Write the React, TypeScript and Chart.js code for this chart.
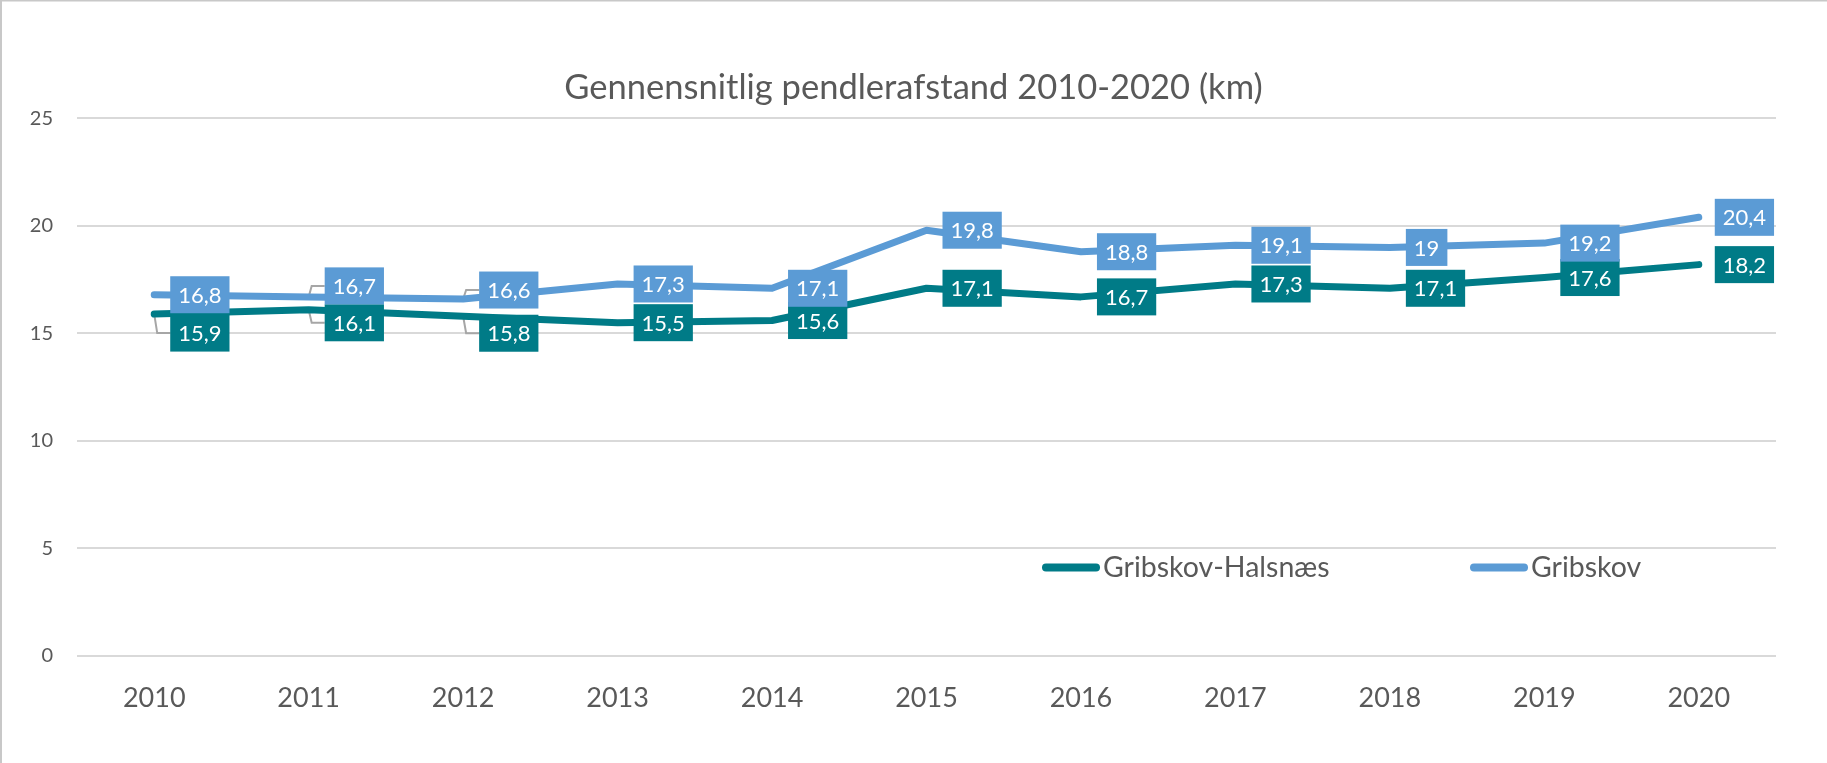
import React, { useEffect, useRef } from "react";
import { Chart, registerables } from "chart.js";

Chart.register(...registerables);

// ---- data ----
const years = ["2010", "2011", "2012", "2013", "2014", "2015", "2016", "2017", "2018", "2019", "2020"];
const seriesNames = ["Gribskov-Halsnæs", "Gribskov"];
const halsnaesValues = [15.9, 16.1, 15.8, 15.5, 15.6, 17.1, 16.7, 17.3, 17.1, 17.6, 18.2];
const gribskovValues = [16.8, 16.7, 16.6, 17.3, 17.1, 19.8, 18.8, 19.1, 19.0, 19.2, 20.4];
const yTickValues = [0, 5, 10, 15, 20, 25];
const chartTitle = "Gennensnitlig pendlerafstand 2010-2020 (km)";

// manual label displacement (px) as in the original, leader lines drawn when non-zero
const halsnaesLabelShift = [19, 13, 17, 0, 0, 0, 0, 0, 0, 0, 0];
const gribskovLabelShift = [0, -11, -9, 0, 0, 0, 0, 0, 0, 0, 0];

// ---- style ----
const TEAL = "#007B87";
const BLUE = "#5B9BD5";
const TEXT = "#595959";
const GRID = "#D9D9D9";
const FONT = "Lato, 'Open Sans', sans-serif";
const LABEL_FONT = `22px ${FONT}`;

const fmt = (v: number) => String(v).replace(".", ",");

const backgroundPlugin = {
  id: "bgBorder",
  beforeDraw(chart: any) {
    const { ctx, width, height } = chart;
    ctx.save();
    ctx.fillStyle = "#FFFFFF";
    ctx.fillRect(0, 0, width, height);
    ctx.fillStyle = "#C8C8C8";
    ctx.fillRect(0, 0, width, 1.5);
    ctx.fillRect(0, 0, 2, height);
    ctx.restore();
  },
};

const shifts = [halsnaesLabelShift, gribskovLabelShift];

function labelGeometry(chart: any, ctx: CanvasRenderingContext2D, di: number, j: number) {
  const meta = chart.getDatasetMeta(di);
  const el = meta.data[j];
  const value = chart.data.datasets[di].data[j] as number;
  const text = fmt(value);
  ctx.font = LABEL_FONT;
  const w = ctx.measureText(text).width + 16;
  const h = 37;
  const left = el.x + 16;
  const cy = el.y + shifts[di][j];
  return { px: el.x, py: el.y, text, w, h, left, cy };
}

const labelPlugin = {
  id: "boxLabels",
  beforeDatasetsDraw(chart: any) {
    const ctx = chart.ctx as CanvasRenderingContext2D;
    ctx.save();
    ctx.strokeStyle = "#A6A6A6";
    ctx.lineWidth = 2;
    chart.data.datasets.forEach((_: any, di: number) => {
      chart.data.datasets[di].data.forEach((_v: any, j: number) => {
        if (shifts[di][j] === 0) return;
        const g = labelGeometry(chart, ctx, di, j);
        ctx.beginPath();
        ctx.moveTo(g.left, g.cy);
        ctx.lineTo(g.px + 3, g.cy);
        ctx.lineTo(g.px, g.py);
        ctx.stroke();
      });
    });
    ctx.restore();
  },
  afterDatasetsDraw(chart: any) {
    const ctx = chart.ctx as CanvasRenderingContext2D;
    ctx.save();
    chart.data.datasets.forEach((ds: any, di: number) => {
      ds.data.forEach((_v: any, j: number) => {
        const g = labelGeometry(chart, ctx, di, j);
        ctx.fillStyle = ds.borderColor;
        ctx.fillRect(g.left, g.cy - g.h / 2, g.w, g.h);
        ctx.fillStyle = "#FFFFFF";
        ctx.font = LABEL_FONT;
        ctx.textAlign = "center";
        ctx.textBaseline = "middle";
        ctx.fillText(g.text, g.left + g.w / 2, g.cy + 1);
      });
    });
    ctx.restore();
  },
};

const legendPlugin = {
  id: "customLegend",
  afterDraw(chart: any) {
    const ctx = chart.ctx as CanvasRenderingContext2D;
    const y = 567.5;
    const starts = [1042, 1470];
    ctx.save();
    chart.data.datasets.forEach((ds: any, i: number) => {
      const x0 = starts[i];
      ctx.strokeStyle = ds.borderColor;
      ctx.lineWidth = 8;
      ctx.lineCap = "round";
      ctx.beginPath();
      ctx.moveTo(x0 + 4, y);
      ctx.lineTo(x0 + 54, y);
      ctx.stroke();
      ctx.fillStyle = TEXT;
      ctx.font = `28.5px ${FONT}`;
      ctx.textAlign = "left";
      ctx.textBaseline = "middle";
      ctx.fillText(ds.label, x0 + 61, y);
    });
    ctx.restore();
  },
};

export default function App() {
  const ref = useRef<HTMLCanvasElement>(null);
  useEffect(() => {
    document.body.style.margin = "0";
    const canvas = ref.current!;
    const chart = new Chart(canvas, {
      type: "line",
      data: {
        labels: years,
        datasets: [
          {
            label: seriesNames[0],
            data: halsnaesValues,
            borderColor: TEAL,
            backgroundColor: TEAL,
            borderWidth: 7,
            pointRadius: 0,
            borderCapStyle: "round",
            borderJoinStyle: "round",
            tension: 0,
            fill: false,
          },
          {
            label: seriesNames[1],
            data: gribskovValues,
            borderColor: BLUE,
            backgroundColor: BLUE,
            borderWidth: 7,
            pointRadius: 0,
            borderCapStyle: "round",
            borderJoinStyle: "round",
            tension: 0,
            fill: false,
          },
        ],
      },
      options: {
        responsive: false,
        maintainAspectRatio: false,
        animation: false,
        layout: { padding: 0 },
        plugins: {
          legend: { display: false },
          tooltip: { enabled: false },
          title: {
            display: true,
            text: chartTitle,
            color: TEXT,
            font: { family: FONT, size: 34.5, weight: "normal" },
            padding: { top: 67, bottom: 10 },
          },
        },
        scales: {
          x: {
            offset: true,
            grid: { display: false, drawTicks: false },
            border: { display: false },
            ticks: {
              color: TEXT,
              font: { family: FONT, size: 27 },
              padding: 26,
              maxRotation: 0,
            },
            afterFit: (s: any) => {
              s.height = 107;
            },
          },
          y: {
            min: 0,
            max: 25,
            afterBuildTicks: (s: any) => {
              s.ticks = yTickValues.map((v) => ({ value: v }));
            },
            grid: { color: GRID, lineWidth: 2, drawTicks: false },
            border: { display: false },
            ticks: {
              color: TEXT,
              font: { family: FONT, size: 20 },
              padding: 24,
            },
            afterFit: (s: any) => {
              s.width = 77;
            },
          },
          yRight: {
            position: "right",
            min: 0,
            max: 25,
            grid: { display: false, drawTicks: false },
            border: { display: false },
            ticks: { display: false },
            afterFit: (s: any) => {
              s.width = 51;
            },
          },
        },
      },
      plugins: [backgroundPlugin, labelPlugin, legendPlugin],
    });
    return () => chart.destroy();
  }, []);
  return (
    <div style={{ position: "absolute", left: 0, top: 0, width: 1827, height: 763 }}>
      <canvas ref={ref} width={1827} height={763} style={{ display: "block" }} />
    </div>
  );
}
